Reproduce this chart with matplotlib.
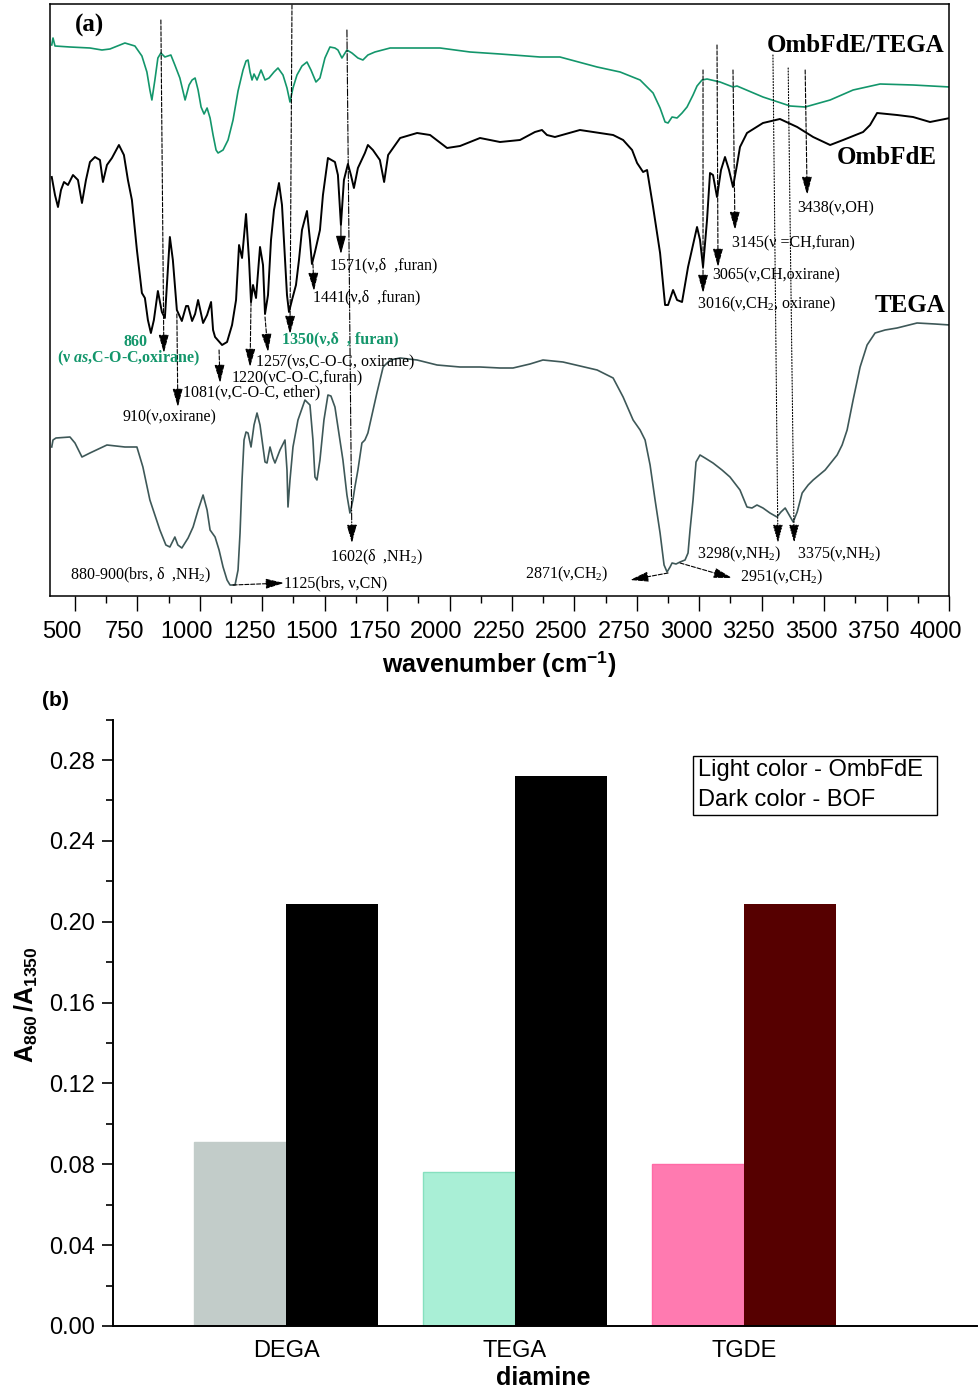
import matplotlib
matplotlib.use('Agg')
import matplotlib.pyplot as plt
from matplotlib.transforms import ScaledTranslation
from matplotlib.patches import Rectangle

plt.rcParams.update({
    'font.family': ['Liberation Sans', 'DejaVu Sans'],
    'mathtext.fontset': 'custom',
    'mathtext.rm': 'Liberation Serif',
    'mathtext.it': 'Liberation Serif:italic',
    'mathtext.bf': 'Liberation Serif:bold:italic',
    'mathtext.sf': 'Liberation Sans:bold',
})

# ---------------- data: FTIR spectra (wavenumber, transmittance a.u.) ----------------
wn_blend = [407, 412, 420, 480, 560, 608, 640, 700, 740, 768, 788, 800, 808, 820, 832, 844, 860, 872, 884,
            900, 920, 941, 957, 969, 981, 993, 1005, 1017, 1029, 1041, 1053, 1065, 1073, 1093, 1113, 1133,
            1153, 1173, 1185, 1193, 1201, 1209, 1217, 1229, 1245, 1261, 1277, 1297, 1313, 1333, 1349, 1361,
            1373, 1389, 1409, 1429, 1445, 1465, 1481, 1501, 1521, 1541, 1553, 1569, 1589, 1609, 1633, 1653,
            1673, 1701, 1762, 1830, 1962, 2082, 2202, 2362, 2442, 2591, 2683, 2763, 2815, 2843, 2863, 2875,
            2891, 2911, 2931, 2951, 2975, 2991, 3011, 3031, 3083, 3135, 3151, 3255, 3364, 3424, 3524, 3616,
            3724, 3856, 4004]
t_blend = [551, 558, 550, 549, 548, 546, 547, 553, 550, 540, 524, 506, 496, 516, 538, 543, 539, 540, 541,
           531, 518, 496, 511, 516, 518, 506, 489, 482, 488, 478, 461, 446, 443, 446, 456, 476,
           505, 526, 535, 536, 524, 516, 522, 516, 526, 516, 518, 524, 528, 521, 508, 494,
           508, 521, 530, 534, 526, 514, 518, 538, 549, 548, 546, 538, 546, 543, 538, 536,
           541, 544, 548, 548, 548, 544, 542, 539, 539, 529, 524, 516, 503, 488, 474, 473,
           479, 478, 483, 489, 501, 510, 516, 517, 514, 509, 510, 499, 490, 489, 496, 506,
           512, 511, 509]

wn_ombfde = [407, 420, 432, 444, 456, 472, 492, 512, 528, 544, 560, 580, 600, 612, 628, 648, 676, 696, 712,
             728, 748, 768, 780, 792, 804, 816, 832, 848, 860, 872, 880, 892, 908, 928, 945, 953, 969, 981,
             993, 1013, 1029, 1045, 1053, 1061, 1089, 1109, 1129, 1145, 1157, 1169, 1185, 1197, 1205, 1213,
             1225, 1241, 1253, 1261, 1273, 1285, 1297, 1317, 1329, 1341, 1349, 1357, 1369, 1385, 1397, 1409,
             1429, 1441, 1449, 1461, 1481, 1493, 1513, 1541, 1553, 1565, 1577, 1593, 1605, 1617, 1633, 1661,
             1673, 1693, 1721, 1738, 1754, 1802, 1870, 1922, 1990, 2042, 2122, 2202, 2282, 2342, 2370, 2390,
             2422, 2522, 2655, 2695, 2731, 2751, 2775, 2791, 2815, 2843, 2863, 2875, 2895, 2911, 2931, 2955,
             2991, 3003, 3015, 3031, 3043, 3055, 3071, 3087, 3103, 3119, 3135, 3151, 3163, 3191, 3255, 3323,
             3392, 3456, 3524, 3576, 3656, 3684, 3712, 3792, 3856, 3924, 4004]
t_ombfde = [419, 401, 389, 406, 414, 411, 421, 416, 393, 416, 434, 439, 436, 414, 431, 438, 451, 441, 416,
            396, 346, 303, 298, 276, 263, 276, 305, 284, 278, 326, 359, 336, 286, 275, 290, 290, 275, 282,
            296, 273, 281, 294, 266, 259, 251, 254, 271, 296, 351, 338, 382, 336, 294, 311,
            298, 349, 331, 282, 301, 356, 386, 413, 391, 336, 301, 284, 296, 311, 336, 366,
            385, 356, 332, 344, 366, 401, 438, 434, 421, 371, 416, 432, 421, 408, 428, 443,
            451, 446, 436, 414, 441, 458, 463, 461, 448, 450, 458, 454, 456, 464, 466, 461,
            459, 466, 461, 456, 446, 433, 424, 426, 389, 343, 291, 291, 306, 296, 294, 329,
            369, 356, 329, 376, 423, 421, 399, 426, 439, 426, 409, 431, 449, 463, 473, 477,
            469, 459, 451, 456, 464, 471, 483, 481, 479, 474, 478]

wn_tega = [407, 412, 424, 480, 500, 528, 560, 628, 700, 748, 772, 800, 820, 840, 864, 880, 900, 912, 928,
           953, 973, 993, 1013, 1029, 1041, 1061, 1077, 1093, 1109, 1121, 1141, 1153, 1161, 1169, 1177,
           1185, 1193, 1205, 1217, 1229, 1241, 1249, 1261, 1269, 1281, 1293, 1301, 1321, 1341, 1349, 1353,
           1361, 1373, 1393, 1421, 1441, 1453, 1461, 1469, 1481, 1497, 1513, 1525, 1541, 1561, 1573, 1589,
           1601, 1613, 1621, 1633, 1649, 1661, 1673, 1689, 1709, 1734, 1762, 1802, 1870, 1950, 2042, 2122,
           2202, 2254, 2322, 2374, 2454, 2522, 2591, 2655, 2695, 2735, 2763, 2783, 2803, 2823, 2843, 2859,
           2871, 2883, 2891, 2907, 2923, 2943, 2955, 2963, 2975, 2987, 3003, 3023, 3055, 3091, 3123, 3163,
           3191, 3211, 3231, 3255, 3283, 3311, 3327, 3344, 3360, 3376, 3392, 3412, 3436, 3456, 3504, 3552,
           3572, 3592, 3616, 3644, 3672, 3704, 3744, 3792, 3872, 3944, 4004]
t_tega = [149, 156, 158, 159, 153, 139, 143, 151, 149, 149, 129, 96, 81, 66, 51, 49, 59, 51, 48,
          58, 69, 86, 101, 86, 66, 59, 46, 29, 16, 11, 11, 26, 63, 116, 156,
          164, 163, 149, 171, 183, 171, 156, 134, 133, 149, 138, 133, 146, 156, 126, 89,
          116, 149, 176, 196, 191, 156, 119, 116, 136, 176, 201, 200, 189, 156, 136, 101,
          83, 96, 109, 126, 153, 156, 163, 181, 203, 229, 236, 238, 236, 231, 229, 229,
          228, 228, 232, 236, 234, 230, 226, 218, 199, 176, 166, 156, 131, 96, 63, 31,
          24, 29, 33, 32, 34, 36, 43, 66, 96, 134, 141, 138, 133, 126, 119, 106,
          89, 88, 91, 88, 83, 79, 84, 88, 81, 74, 84, 103, 111, 116, 126, 141,
          151, 166, 196, 229, 251, 263, 266, 268, 273, 272, 271]

# ---------------- data: absorbance ratio bar chart ----------------
diamines = ['DEGA', 'TEGA', 'TGDE']
ratio_ombfde = [0.091, 0.076, 0.080]
ratio_bof = [0.209, 0.272, 0.209]
wn_ticks = list(range(500, 4001, 250))
ratio_ticks = [0.00, 0.04, 0.08, 0.12, 0.16, 0.20, 0.24, 0.28]

# styles
light_colors = ['#c2ccc9', '#a9efd6', '#ff7ab0']
light_edges = ['#c2ccc9', '#86e0bf', '#ff6aa6']
dark_colors = ['#000000', '#000000', '#560000']
c_blend = '#13966b'
c_ombfde = '#000000'
c_tega = '#3e5858'

W, H = 979, 1389
fig = plt.figure(figsize=(W / 100, H / 100), dpi=100)

# ================= panel (a) =================
ax = fig.add_axes([50 / W, 1 - 596 / H, 899 / W, 592 / H])
ax.plot(wn_blend, t_blend, color=c_blend, lw=1.2)
ax.plot(wn_ombfde, t_ombfde, color=c_ombfde, lw=1.4)
ax.plot(wn_tega, t_tega, color=c_tega, lw=1.2)
ax.set_xlim(400, 4000)
ax.set_ylim(0, 592)
ax.set_yticks([])
ax.set_xticks(wn_ticks)
ax.set_xticks([w + 125 for w in wn_ticks[:-1]], minor=True)
ax.tick_params(axis='x', which='major', direction='out', length=11, width=1.0, labelsize=17, pad=7)
ax.tick_params(axis='x', which='minor', direction='out', length=5, width=1.0)
for s in ax.spines.values():
    s.set_linewidth(1.1)
off = ScaledTranslation(-13 / 100, 0, fig.dpi_scale_trans)
for t in ax.xaxis.get_major_ticks():
    t.label1.set_transform(t.label1.get_transform() + off)
ax.set_xlabel('wavenumber (cm$^{\\mathsf{-1}}$)', fontsize=18, fontweight='bold', labelpad=4)

serif = 'Liberation Serif'
fs = 11.5

def arrow(x0, y0, x1, y1, ls='--'):
    ax.annotate('', xy=(x1, y1), xytext=(x0, y0),
                arrowprops=dict(arrowstyle='-|>,head_length=0.8,head_width=0.22', ls=ls, lw=0.8,
                                color='black', shrinkA=0, shrinkB=0, mutation_scale=14))

def label(x, y, s, color='black', bold=False, ha='left', size=fs):
    ax.text(x, y, s, color=color, fontweight='bold' if bold else 'normal', family=serif,
            fontsize=size, ha=ha, va='center')

arrows = [
    (844, 576, 856, 243, '--'), (908, 282, 912, 189, '--'), (1077, 246, 1081, 213, '--'),
    (1205, 294, 1201, 229, '--'), (1261, 279, 1273, 244, '--'), (1369, 591, 1361, 262, '--'),
    (1453, 332, 1457, 305, '--'), (1565, 370, 1565, 342, '-'), (1589, 566, 1609, 53, '-.'),
    (1133, 11, 1337, 13, '--'), (2875, 23, 2723, 16, '--'), (2923, 33, 3131, 18, '--'),
    (3015, 526, 3015, 303, '--'), (3071, 551, 3075, 329, '--'), (3135, 526, 3143, 366, '--'),
    (3424, 526, 3432, 401, '--'), (3295, 541, 3315, 53, ':'), (3356, 528, 3380, 53, ':'),
]
for a in arrows:
    arrow(*a)

label(744, 254, '860', color=c_blend, bold=True, ha='center')
label(428, 238, '(ν $\\mathbf{as}$,C-O-C,oxirane)', color=c_blend, bold=True)
label(1329, 257, '1350(ν,δ  , furan)', color=c_blend, bold=True)
label(1221, 234, '1257(ν$s$,C-O-C, oxirane)')
label(1129, 218, '1220(νC-O-C,furan)')
label(933, 204, '1081(ν,C-O-C, ether)')
label(692, 179, '910(ν,oxirane)')
label(480, 21, '880-900(brs, δ  ,NH$_2$)')
label(1337, 13, '1125(brs, ν,CN)')
label(1521, 39, '1602(δ  ,NH$_2$)')
label(1521, 331, '1571(ν,δ  ,furan)')
label(1453, 299, '1441(ν,δ  ,furan)')
label(3392, 388, '3438(ν,OH)')
label(3131, 353, '3145(ν =CH,furan)')
label(3051, 321, '3065(ν,CH,oxirane)')
label(2991, 292, '3016(ν,CH$_2$, oxirane)')
label(2302, 22, '2871(ν,CH$_2$)')
label(3163, 19, '2951(ν,CH$_2$)')
label(2991, 42, '3298(ν,NH$_2$)')
label(3392, 42, '3375(ν,NH$_2$)')
label(3980, 551, 'OmbFdE/TEGA', bold=True, ha='right', size=18)
label(3952, 439, 'OmbFdE', bold=True, ha='right', size=18)
label(3984, 291, 'TEGA', bold=True, ha='right', size=18)
label(500, 571, '(a)', bold=True, size=18)

# ================= panel (b) =================
bx = fig.add_axes([113 / W, 1 - 1326 / H, 864 / W, 606.4 / H])
pos = list(range(len(diamines)))
bw = 0.40
bx.bar([p - bw / 2 for p in pos], ratio_ombfde, width=bw, color=light_colors,
       edgecolor=light_edges, linewidth=1.0)
bx.bar([p + bw / 2 for p in pos], ratio_bof, width=bw, color=dark_colors, linewidth=0)
bx.set_xlim(-0.7555, 3.017)
bx.set_ylim(0, 0.30)
bx.spines['top'].set_visible(False)
bx.spines['right'].set_visible(False)
bx.spines['left'].set_linewidth(1.4)
bx.spines['bottom'].set_linewidth(1.4)
bx.set_xticks(pos)
bx.set_xticklabels(diamines)
bx.tick_params(axis='x', length=0, labelsize=17, pad=10)
bx.set_yticks(ratio_ticks)
bx.set_yticklabels(['%.2f' % v for v in ratio_ticks])
bx.set_yticks([0.02, 0.06, 0.10, 0.14, 0.18, 0.22, 0.26, 0.30], minor=True)
bx.tick_params(axis='y', which='major', direction='out', length=8, width=1.2, labelsize=17, pad=5)
bx.tick_params(axis='y', which='minor', direction='out', length=5, width=1.2)
bx.set_ylabel('$\\mathsf{A_{860}\\,/A_{1350}}$', fontsize=18)
bx.yaxis.set_label_coords(-0.085, 0.53)
bx.set_xlabel('diamine', fontsize=18, fontweight='bold')
bx.xaxis.set_label_coords(0.498, -0.066)

bx.add_patch(Rectangle((0.671, 0.843), 0.283, 0.097, transform=bx.transAxes,
                       fill=False, edgecolor='black', lw=1.0, clip_on=False))
bx.text(0.677, 0.917, 'Light color - OmbFdE', transform=bx.transAxes, fontsize=17, va='center')
bx.text(0.677, 0.867, 'Dark color - BOF', transform=bx.transAxes, fontsize=17, va='center')

fig.text(42 / W, 1 - 700 / H, '(b)', fontsize=15, fontweight='bold', va='center')

fig.savefig('out.png', dpi=100)
